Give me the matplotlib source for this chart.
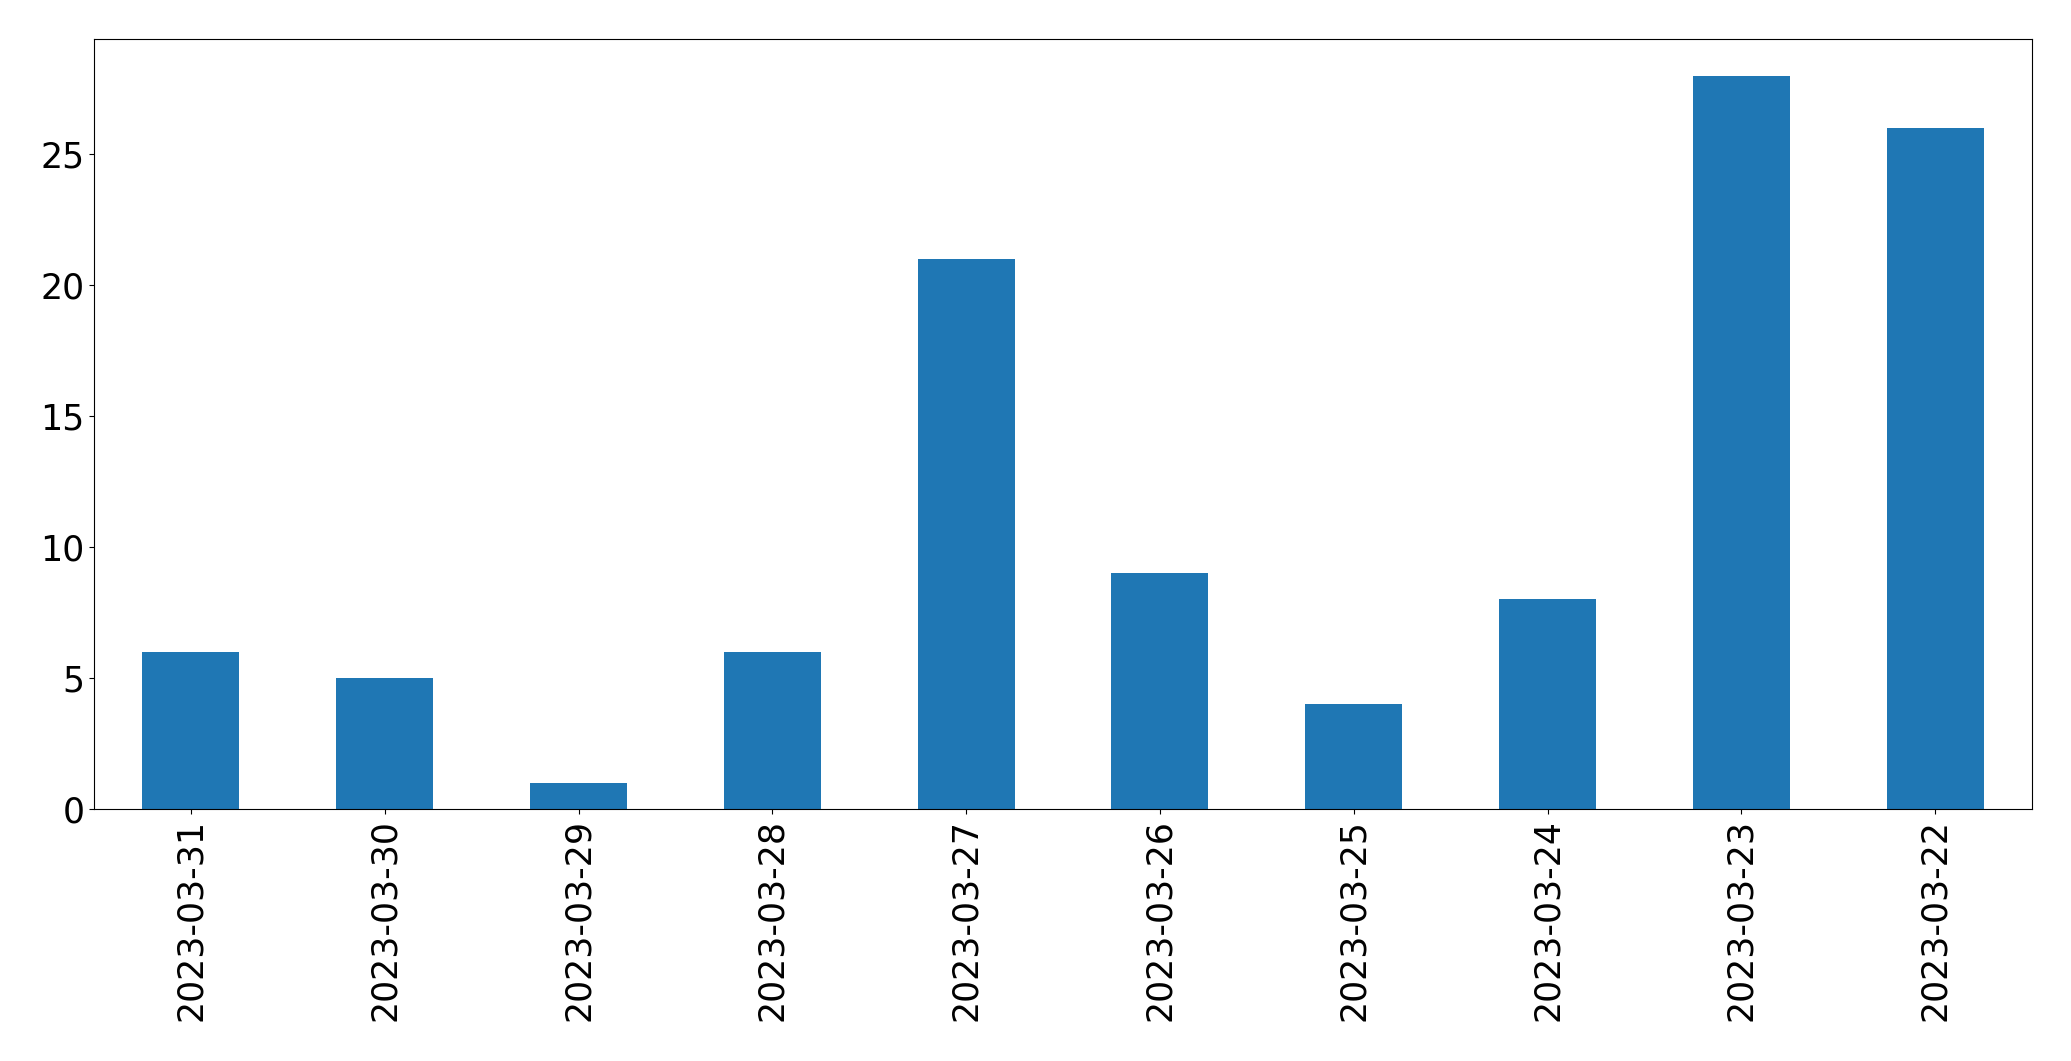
import matplotlib
matplotlib.use('Agg')
import matplotlib.pyplot as plt
import pandas as pd

# counts per day
dates = ['2023-03-31', '2023-03-30', '2023-03-29', '2023-03-28', '2023-03-27',
         '2023-03-26', '2023-03-25', '2023-03-24', '2023-03-23', '2023-03-22']
counts = [6, 5, 1, 6, 21, 9, 4, 8, 28, 26]

series = pd.Series(counts, index=dates)

fig = plt.figure(figsize=(20.71, 10.61), dpi=100)
ax = fig.add_axes([0.0454, 0.2375, 0.9358, 0.7257])
series.plot(kind='bar', ax=ax, color='#1f77b4', width=0.5)
ax.tick_params(axis='both', labelsize=25)
ax.set_ylim(0, 29.4)

fig.savefig('out.png', dpi=100)
